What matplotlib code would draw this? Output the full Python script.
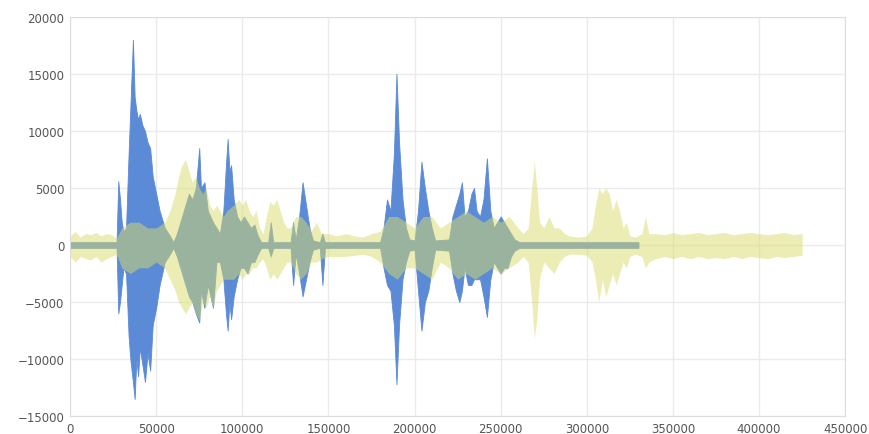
import matplotlib
matplotlib.use("Agg")
import matplotlib.pyplot as plt
import numpy as np

# envelope of each waveform (x in thousands of samples)
blue_x = [0, 27, 28, 29, 30, 31, 32.5, 34, 35, 36.5, 37.5, 38.5, 39.5, 40.5, 42, 43.5, 45, 46.5, 48, 50, 52, 55, 58, 60,
          62, 65, 67, 69, 71, 73, 75, 76, 78, 80, 83, 85, 87, 89, 90.5, 91.5, 92.5, 93.5, 95, 97, 99,
          101, 103, 105, 107, 109, 111, 115, 116.5, 118, 128, 129.5, 131, 133, 135, 137, 139, 141,
          145, 146.5, 148, 180, 182, 184, 186, 188, 189.5, 191, 193, 195, 197, 200, 202, 204, 206,
          208, 210, 212, 220, 222, 224, 226, 227.5, 229, 231, 233, 234.5, 236, 238, 240, 242, 244,
          246, 248, 250, 252, 254, 256, 258, 261, 330]
blue_hi = [250, 250, 5600, 4000, 2000, 1200, 1500, 8000, 12000, 18000, 13000, 11800, 11000, 11500, 10500, 10000, 9000, 8500, 6000, 4500, 3000, 1500, 800, 250,
           1000, 2500, 3500, 4500, 4000, 5000, 8500, 5000, 5500, 3000, 2000, 1500, 1000, 3000, 7000, 9300, 6500, 7000, 4000, 2500, 2000,
           2500, 2000, 1500, 1800, 800, 250, 250, 2000, 250, 250, 2000, 500, 2500, 5500, 3500, 1500, 400,
           250, 1000, 250, 250, 1500, 4000, 3000, 8000, 15000, 9000, 4000, 1500, 500, 400, 3000, 7300, 5000,
           3000, 1500, 400, 500, 2500, 3500, 4500, 5500, 2500, 3000, 4500, 5000, 3000, 2500, 4000, 7600, 3000,
           1500, 2000, 2500, 2000, 1500, 1000, 500, 250, 250]
blue_lo = [-250, -250, -6000, -5000, -3500, -2000, -2500, -8000, -10000, -12000, -13500, -10000, -11500, -9000, -10500, -12000, -9500, -11000, -7000, -5500, -3500, -1500, -800, -250,
           -1000, -2500, -3500, -4500, -5000, -6000, -6800, -4000, -5500, -3500, -5500, -1500, -1500, -3000, -6000, -7500, -5000, -6500, -4500, -3000, -2000,
           -2000, -2500, -1500, -1500, -800, -250, -250, -1000, -250, -250, -3500, -800, -2500, -4500, -3000, -1500, -400,
           -250, -3500, -250, -250, -2000, -3500, -4000, -7000, -12200, -7000, -3000, -1500, -500, -400, -4000, -7500, -5000,
           -4000, -2000, -400, -500, -2500, -4000, -5000, -4000, -2000, -3500, -3500, -3000, -3000, -3000, -4500, -6300, -3000,
           -1500, -2000, -2500, -2000, -2000, -1000, -500, -250, -250]

yellow_x = [0, 3, 6, 9, 12, 15, 18, 21, 24, 27, 30, 35, 40, 45, 50, 55, 58, 61, 63, 65,
            67, 69, 71, 73, 75, 77, 79, 81, 83, 85, 87, 89, 91, 95, 98, 100, 102, 104, 106, 108,
            110, 112, 114, 116, 118, 120, 122, 124, 126, 128, 131, 134, 137, 140, 143, 146, 150, 155, 160, 165,
            170, 175, 180, 185, 190, 195, 200, 205, 210, 215, 220, 225, 230, 235, 240, 245, 250, 255, 260, 263,
            266, 268, 269.5, 271, 272.5, 275, 278, 281, 284, 287, 290, 295, 300, 303, 305, 307, 309, 311, 313, 315,
            317, 319, 321, 323, 325, 328, 332, 334, 336, 340, 345, 350, 355, 360, 365, 370, 375, 380, 385, 390,
            395, 400, 405, 410, 415, 420, 425]
yellow_hi = [800, 1200, 700, 1000, 900, 1100, 800, 1000, 900, 600, 1500, 2000, 2000, 1500, 1500, 2000, 3000, 4500, 6000, 7000,
             7500, 6500, 5500, 6000, 5000, 4500, 5000, 3500, 3000, 3500, 3000, 2500, 3000, 3500, 4000, 3500, 4000, 3000, 2500, 3000,
             1500, 1000, 2500, 3800, 3500, 4000, 3000, 2000, 1500, 1500, 2500, 2500, 2000, 1200, 2000, 1000, 1000, 800, 1000, 800,
             700, 1000, 1200, 2500, 2500, 2000, 1500, 2500, 2500, 1500, 2000, 2500, 3000, 2500, 2000, 2500, 2000, 2500, 1500, 1000,
             1500, 5000, 7300, 5000, 2000, 1500, 2500, 1500, 1500, 1000, 800, 700, 800, 1500, 3500, 5000, 4500, 5000, 4500, 3000,
             4000, 3000, 1500, 2000, 800, 700, 1000, 2500, 1000, 1000, 900, 1100, 900, 1000, 1100, 900, 1000, 1100, 900, 1000,
             1100, 1000, 900, 1000, 1100, 900, 1000]
yellow_lo = [-1000, -1500, -1000, -1200, -1300, -1000, -1500, -1200, -1000, -800, -2000, -2500, -2000, -2000, -1500, -2000, -3000, -4000, -5000, -5500,
             -6000, -5500, -5000, -6000, -6600, -5000, -5500, -4500, -5500, -4000, -3500, -3000, -3000, -3000, -2500, -3000, -2500, -2500, -2000, -2000,
             -1500, -1200, -2000, -3000, -2500, -3000, -2500, -2000, -1500, -1500, -2500, -3000, -2500, -1500, -1500, -1200, -1000, -1000, -1000, -900,
             -800, -1000, -1500, -2500, -3000, -2000, -2000, -2500, -3000, -1500, -2000, -3000, -2500, -3000, -2500, -2000, -2500, -2000, -1500, -1000,
             -1500, -5000, -8200, -6500, -3000, -1500, -2000, -2500, -1500, -1000, -800, -800, -900, -1500, -3000, -5000, -3000, -4500, -3500, -2500,
             -3500, -2500, -1500, -2000, -1000, -800, -1000, -2000, -1500, -1200, -1000, -1200, -1000, -1200, -1000, -1200, -1100, -1200, -1000, -1200,
             -1000, -1100, -1200, -1000, -1100, -1000, -900]

x_ticks = [0, 50000, 100000, 150000, 200000, 250000, 300000, 350000, 400000, 450000]
y_ticks = [-15000, -10000, -5000, 0, 5000, 10000, 15000, 20000]

fig = plt.figure(figsize=(8.69, 4.35), dpi=100)
ax = fig.add_axes([0.0806, 0.041, 0.892, 0.918])

bx = np.array(blue_x) * 1000
yx = np.array(yellow_x) * 1000
ax.fill_between(bx, blue_lo, blue_hi, color='#5b8ad6', linewidth=0.6, edgecolor='#5b8ad6')
ax.fill_between(yx, yellow_lo, yellow_hi, color='#d8dc6a', alpha=0.5, linewidth=0)

ax.set_xlim(0, 450000)
ax.set_ylim(-15000, 20000)
ax.set_xticks(x_ticks)
ax.set_yticks(y_ticks)
ax.grid(True, color='#ebebeb', linewidth=1)
ax.set_axisbelow(True)
for s in ax.spines.values():
    s.set_color('#dddddd')
ax.tick_params(length=0, labelsize=8.5, labelcolor='#555555', pad=4)

fig.savefig('out.png', dpi=100)
